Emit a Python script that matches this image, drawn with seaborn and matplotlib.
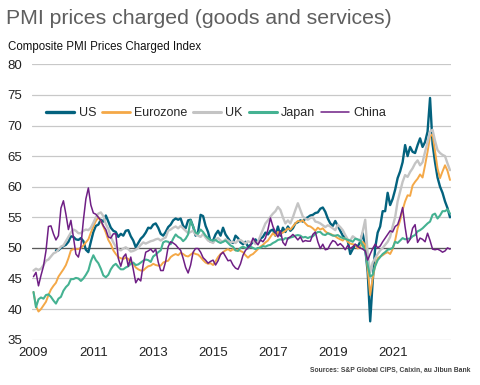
import numpy as np
import pandas as pd
import matplotlib
matplotlib.use("Agg")
import matplotlib.pyplot as plt
import seaborn as sns
from matplotlib.lines import Line2D

# ---------------- data (monthly, Jan 2009 - Dec 2022) ----------------
years = ["2009", "2011", "2013", "2015", "2017", "2019", "2021"]
series_names = ["US", "Eurozone", "UK", "Japan", "China"]

nan = np.nan
us = [nan, nan, nan, nan, nan, nan, nan, nan, nan, 49.6, 49.6, 50.0,
      50.3, 50.5, 51.0, 51.9, 51.8, 51.4, 51.3, 51.6, 51.1, 49.7, 49.3, 51.0,
      52.6, 53.6, 53.8, 54.6, 54.3, 55.3, 54.3, 53.3, 52.8, 52.6, 51.8, 52.3,
      52.0, 52.8, 52.9, 51.9, 51.2, 50.1, 50.8, 51.5, 51.9, 52.5, 53.3, 53.2,
      53.8, 54.0, 53.3, 52.3, 52.0, 52.6, 53.4, 53.8, 54.5, 54.8, 54.6, 54.8,
      53.6, 53.2, 54.5, 54.6, 53.5, 52.0, 52.6, 55.4, 55.2, 53.6, 52.6, 51.0,
      51.2, 52.2, 52.8, 52.0, 53.3, 52.2, 51.6, 51.0, 50.8, 52.0, 51.6, 50.9,
      50.6, 51.0, 50.2, 50.5, 51.0, 51.4, 50.8, 51.5, 51.8, 52.5, 52.2, 52.8,
      53.0, 52.0, 53.5, 52.0, 53.3, 52.6, 53.5, 52.8, 53.2, 54.0, 54.2, 54.5,
      54.3, 54.8, 55.0, 55.3, 55.4, 55.7, 55.8, 56.4, 56.6, 55.9, 54.8, 54.0,
      53.6, 54.4, 53.6, 52.8, 52.0, 51.8, 51.2, 49.0, 49.8, 50.5, 50.2, 51.0,
      52.4, 50.0, 46.0, 38.0, 44.5, 50.0, 52.5, 53.5, 56.0, 56.0, 59.0, 57.0,
      58.0, 59.5, 61.4, 62.5, 64.0, 66.8, 65.0, 66.5, 65.7, 65.5, 66.8, 67.9,
      66.5, 67.3, 69.0, 74.5, 67.0, 64.0, 61.5, 60.0, 59.0, 57.6, 56.5, 55.0]

eurozone = [42.8, 40.5, 39.6, 40.0, 40.6, 41.2, 42.3, 43.2, 43.8, 44.3, 45.3, 45.9,
            46.5, 47.2, 48.3, 49.6, 49.8, 49.8, 49.8, 50.0, 50.4, 50.9, 51.4, 52.5,
            53.5, 54.4, 55.0, 54.4, 53.5, 52.5, 51.3, 50.6, 49.6, 49.0, 48.5, 48.3,
            48.2, 48.4, 48.2, 47.6, 47.4, 46.8, 46.5, 46.3, 46.3, 46.7, 47.0, 47.1,
            47.4, 47.2, 47.1, 47.1, 47.6, 47.8, 47.9, 48.5, 48.8, 49.0, 48.8, 49.2,
            49.0, 48.7, 48.6, 48.9, 49.2, 49.0, 48.9, 48.5, 48.0, 47.6, 47.4, 47.5,
            47.2, 47.8, 48.5, 49.0, 49.3, 49.6, 49.8, 49.5, 49.8, 49.6, 49.7, 49.5,
            49.3, 48.8, 48.4, 48.8, 49.0, 49.4, 49.8, 50.2, 50.5, 50.9, 51.2, 51.8,
            52.4, 52.0, 52.6, 52.3, 52.5, 52.8, 53.2, 53.0, 53.5, 54.0, 54.4, 54.3,
            54.5, 54.0, 53.6, 53.5, 53.2, 52.8, 53.3, 53.0, 53.2, 52.7, 52.4, 52.3,
            52.1, 51.9, 51.6, 51.4, 51.2, 51.6, 51.0, 50.7, 50.6, 50.5, 49.9, 50.2,
            51.0, 50.5, 46.5, 42.3, 45.0, 47.2, 48.3, 48.6, 48.8, 49.1, 49.3, 49.0,
            49.8, 51.2, 53.2, 54.5, 56.2, 57.6, 58.6, 58.5, 60.2, 60.8, 61.3, 62.0,
            61.5, 63.5, 65.7, 68.2, 68.6, 65.8, 63.0, 61.4, 62.5, 63.5, 62.6, 61.1]

uk = [46.3, 46.6, 46.4, 46.6, 47.2, 47.9, 48.1, 48.6, 49.1, 49.3, 49.7, 50.2,
      50.4, 51.1, 51.8, 52.5, 53.0, 52.8, 52.4, 52.4, 52.8, 53.0, 52.9, 53.3,
      54.1, 55.0, 55.6, 55.8, 55.2, 53.9, 53.1, 51.8, 50.9, 50.2, 49.8, 49.6,
      49.9, 50.1, 49.8, 49.4, 49.5, 49.7, 50.0, 50.5, 50.9, 50.7, 50.9, 51.1,
      51.2, 51.4, 51.5, 51.2, 51.5, 51.7, 52.8, 53.0, 53.3, 53.5, 53.2, 53.6,
      53.2, 52.8, 52.4, 52.6, 52.8, 52.2, 52.0, 51.8, 52.3, 51.7, 51.2, 51.0,
      50.8, 51.4, 51.6, 51.2, 51.0, 51.4, 51.2, 50.9, 51.0, 50.8, 51.2, 51.3,
      51.0, 50.7, 51.1, 50.9, 51.2, 50.6, 51.0, 52.0, 53.0, 54.0, 54.5, 55.1,
      55.6, 56.0, 56.7, 56.2, 55.0, 54.0, 54.5, 54.0, 55.0, 56.2, 57.3, 56.2,
      55.1, 54.8, 54.6, 54.9, 55.0, 54.3, 54.2, 54.0, 53.7, 53.4, 53.7, 53.5,
      53.2, 52.9, 53.8, 53.4, 52.9, 52.1, 51.4, 51.2, 51.9, 51.6, 51.3, 51.1,
      52.7, 54.6, 49.0, 46.0, 47.6, 48.3, 49.0, 49.6, 50.0, 50.5, 51.0, 51.8,
      53.5, 55.0, 57.6, 59.2, 60.8, 61.9, 61.6, 62.4, 63.0, 63.8, 64.3, 63.5,
      64.0, 65.7, 67.3, 69.0, 69.3, 67.5, 66.0, 65.5, 65.2, 65.0, 63.8, 62.7]

japan = [42.8, 40.3, 41.6, 41.9, 41.7, 42.3, 42.4, 42.0, 41.4, 40.9, 41.7, 42.0,
         43.0, 43.6, 44.0, 44.9, 44.9, 45.1, 45.0, 44.6, 45.0, 45.6, 46.3, 47.8,
         48.8, 48.0, 47.5, 46.6, 45.5, 45.2, 45.6, 46.5, 47.1, 47.4, 46.9, 46.5,
         46.5, 46.8, 47.0, 47.4, 47.6, 47.2, 47.3, 47.6, 47.9, 48.1, 48.0, 47.7,
         48.6, 48.9, 49.3, 49.6, 50.9, 51.1, 51.0, 50.6, 51.5, 52.2, 51.8, 51.6,
         51.1, 51.5, 52.2, 54.5, 53.5, 52.5, 52.3, 53.0, 52.6, 52.0, 51.6, 51.3,
         51.2, 51.3, 51.0, 50.8, 51.0, 51.2, 50.8, 50.4, 50.2, 49.6, 49.5, 50.0,
         50.2, 50.0, 49.9, 50.2, 50.0, 49.8, 50.0, 50.0, 50.3, 50.2, 50.4, 50.5,
         50.8, 51.0, 51.3, 51.4, 51.3, 51.6, 51.5, 51.7, 51.8, 52.0, 52.1, 52.0,
         51.7, 51.8, 51.6, 51.8, 51.9, 52.3, 52.6, 52.6, 52.2, 52.1, 52.4, 52.2,
         52.0, 52.0, 52.1, 51.8, 51.6, 51.5, 51.3, 51.2, 51.0, 51.5, 51.4, 51.2,
         50.4, 49.5, 47.2, 45.3, 45.6, 47.0, 48.0, 48.5, 49.0, 49.3, 49.7, 49.8,
         50.0, 51.0, 50.8, 51.2, 51.6, 51.4, 51.5, 51.5, 51.9, 52.1, 52.7, 52.9,
         53.2, 53.6, 54.0, 54.3, 55.4, 55.6, 54.8, 55.3, 56.0, 56.0, 56.3, 55.6]

china = [45.3, 46.0, 43.8, 45.5, 47.0, 49.5, 53.5, 53.6, 52.3, 51.3, 52.0, 56.5,
         57.7, 55.5, 53.0, 54.5, 51.8, 49.0, 48.5, 50.3, 54.5, 58.0, 59.8, 57.0,
         55.7, 55.5, 55.0, 54.5, 53.6, 53.0, 51.8, 51.6, 52.3, 52.3, 48.3, 47.0,
         48.5, 49.0, 47.0, 48.5, 46.5, 44.3, 45.0, 44.6, 47.3, 49.3, 49.5, 49.8,
         49.3, 49.8, 47.7, 46.3, 46.3, 47.8, 50.2, 51.0, 50.8, 50.5, 50.0, 49.6,
         48.3, 46.8, 45.9, 47.2, 49.3, 49.9, 49.9, 49.3, 48.4, 48.0, 47.5, 47.8,
         48.0, 47.2, 47.9, 48.9, 49.3, 48.6, 47.9, 48.0, 47.2, 46.7, 46.5, 47.4,
         48.8, 49.6, 50.0, 50.4, 51.6, 51.0, 50.5, 51.3, 51.0, 51.6, 53.0, 54.9,
         53.5, 52.6, 51.8, 52.8, 50.9, 50.4, 51.6, 51.8, 52.2, 51.8, 51.3, 51.8,
         51.0, 51.2, 51.1, 51.1, 52.2, 52.6, 51.0, 49.9, 50.6, 49.7, 49.8, 50.6,
         51.2, 51.0, 50.4, 50.7, 50.3, 49.7, 50.4, 49.9, 50.2, 50.6, 50.2, 50.0,
         49.8, 49.5, 48.0, 49.0, 49.9, 50.6, 50.0, 50.3, 51.0, 51.6, 52.2, 52.8,
         52.6, 53.5, 53.8, 55.0, 56.6, 53.4, 50.8, 51.4, 53.2, 53.8, 50.9, 51.6,
         51.4, 51.0, 52.4, 51.2, 49.8, 49.7, 49.8, 49.6, 49.3, 49.5, 50.0, 49.8]

# ---------------- styling ----------------
colors = {"US": "#03627e", "Eurozone": "#f4a847", "UK": "#c4c4c4",
          "Japan": "#45b292", "China": "#6f1f85"}
widths = {"US": 1.7, "Eurozone": 1.4, "UK": 1.7, "Japan": 1.5, "China": 1.1}
legend_widths = {"US": 2.4, "Eurozone": 2.0, "UK": 2.2, "Japan": 2.2, "China": 1.1}

sns.set_theme(style="white")
plt.rcParams["font.family"] = ["Liberation Sans", "DejaVu Sans"]

fig = plt.figure(figsize=(4.8, 3.85), dpi=100)
ax = fig.add_axes([32 / 480, 1 - 340 / 385, (451 - 32) / 480, (340 - 64) / 385])

data = {"US": us, "Eurozone": eurozone, "UK": uk, "Japan": japan, "China": china}
for name in series_names:
    vals = data[name]
    df = pd.DataFrame({"month": np.arange(len(vals)), "value": vals}).dropna()
    sns.lineplot(data=df, x="month", y="value", ax=ax, color=colors[name],
                 linewidth=widths[name], legend=False, zorder=3)

ax.set_xlim(-0.6, 167.4)
ax.set_ylim(34.95, 80.05)
ax.set_yticks(range(35, 81, 5))
ax.set_xticks(range(0, 145, 24))
ax.set_xticklabels(years)
ax.tick_params(axis="both", length=0, labelsize=9.5, colors="#222222")
ax.tick_params(axis="y", pad=7)
ax.tick_params(axis="x", pad=5)
ax.set_xlabel("")
ax.set_ylabel("")
for s in ax.spines.values():
    s.set_visible(False)
ax.set_axisbelow(True)
ax.grid(axis="y", color="#c8c8c8", linewidth=0.9)
ax.grid(axis="x", visible=False)
ax.axhline(50, color="#5a5a5a", linewidth=0.9, zorder=1)

handles = [Line2D([0], [0], color=colors[n], lw=legend_widths[n]) for n in series_names]
fig.legend(handles, series_names, loc="center left",
           bbox_to_anchor=(46 / 480, 1 - 113 / 385), ncol=5, frameon=False,
           borderpad=0, borderaxespad=0, handlelength=2.25, handletextpad=0.35,
           columnspacing=0.45, fontsize=9)

fig.text(6 / 480, 1 - 24 / 385, "PMI prices charged (goods and services)",
         fontsize=15.3, color="#5f5f5f", va="baseline", ha="left")
fig.text(8 / 480, 1 - 50 / 385, "Composite PMI Prices Charged Index",
         fontsize=8.3, color="#111111", va="baseline", ha="left")
fig.text(470 / 480, 1 - 372 / 385, "Sources: S&P Global CIPS, Caixin, au Jibun Bank",
         fontsize=4.9, weight="bold", color="#404040", va="baseline", ha="right")

fig.savefig("out.png", dpi=100)
